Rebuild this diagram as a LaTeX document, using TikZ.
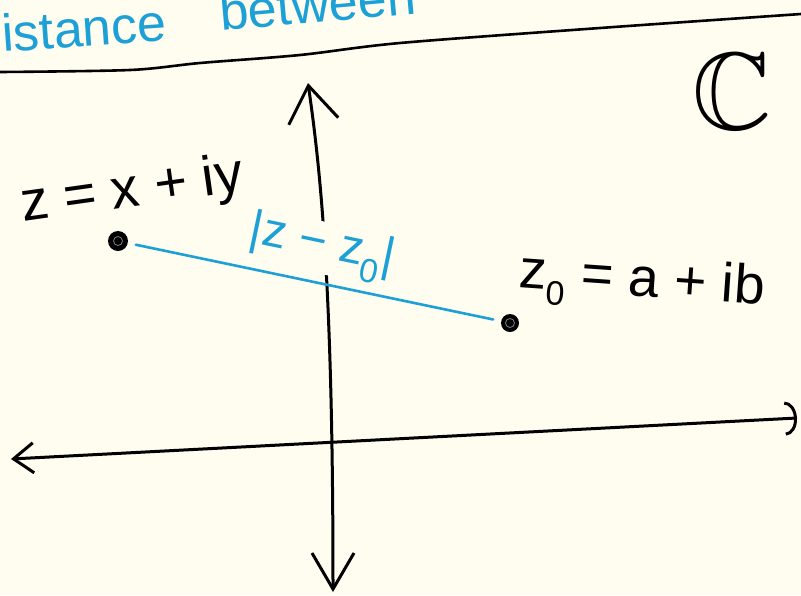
\documentclass[tikz,border=0pt]{standalone}
\usepackage{amssymb}
\usepackage{fontspec}
\setmainfont{Liberation Sans}
\usetikzlibrary{arrows.meta}
\definecolor{paper}{RGB}{254,253,240}
\definecolor{ink}{RGB}{28,160,214}

\begin{document}
\begin{tikzpicture}[x=1pt, y=-1pt,
  pen/.style={line width=3pt, line cap=round, line join=round},
  hand/.style={font=\fontsize{#1}{#1}\selectfont, inner sep=1pt},
  dot/.style={circle, fill=black, minimum size=20pt, inner sep=0pt,
    path picture={\draw[gray, line width=0.8pt] (path picture bounding box.center) circle (4.5pt);}}]
\useasboundingbox (0,0) rectangle (801,595);
\clip (0,0) rectangle (801,595);
\fill[paper] (0,0) rectangle (801,595);

\node[hand=52, ink, anchor=base west, rotate=4] (istance) at (2,52) {istance};
\node[hand=52, ink, anchor=base west, rotate=5] (between) at (220,31) {between};
\draw[pen, line width=2.6pt] plot[smooth] coordinates {(0,72) (130,70) (200,63) (300,55) (400,43) (600,28) (801,14)};

\coordinate (north) at (308,83);
\coordinate (south) at (333,592);
\coordinate (west) at (11,459);
\coordinate (east) at (797,418);
\draw[pen, {Straight Barb[length=20pt,width=30pt]}-{Arc Barb[length=12pt,width=34pt]}] (west) -- (east);
\draw[pen, {Straight Barb[length=36pt,width=50pt]}-{Straight Barb[length=36pt,width=42pt]}] (north) .. controls (322,180) and (333,300) .. (south);

\node[hand=110] (cset) at (732,92) {$\mathbb{C}$};
\node[hand=56, rotate=8] (zlabel) at (132,192) {z = x + iy};
\node[hand=55, rotate=-4] (z0label) at (642,284) {z\textsubscript{\fontsize{34}{34}\selectfont 0} = a + ib};

\node[dot] (z) at (118,241) {};
\node[dot, minimum size=18pt] (z0) at (510,323) {};
\draw[pen, ink, line width=2.6pt, shorten <=8pt, shorten >=8pt] (z) -- (z0)
  node[midway, above=8pt, sloped, hand=48, fill=paper, text=ink] (dist) {|z − z\textsubscript{0}|};
\end{tikzpicture}
\end{document}
